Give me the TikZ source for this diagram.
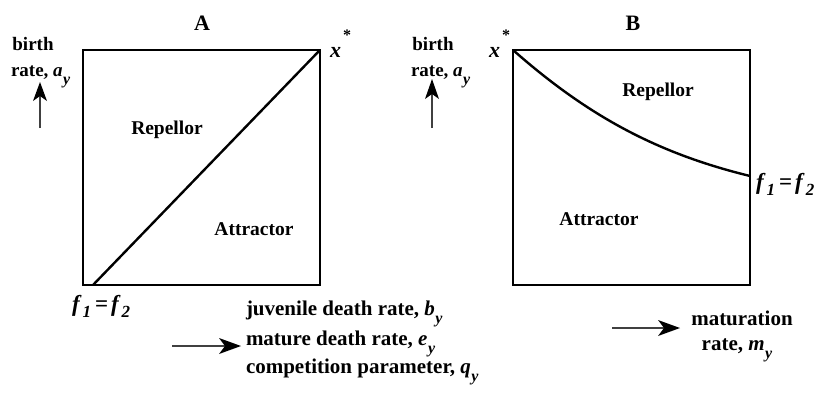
\documentclass[tikz,border=0pt]{standalone}
\usepackage{fontspec}
\setmainfont{Liberation Serif}
\newcommand{\mysub}[1]{\kern0.5pt\raisebox{-8pt}{\fontsize{16}{16}\selectfont\itshape #1}}
\newcommand{\fsub}[1]{\raisebox{-6pt}{\fontsize{17}{17}\selectfont\itshape #1}}
\newcommand{\xstar}{\textit{x}\kern2pt\raisebox{17pt}{\fontsize{16}{16}\selectfont *}}
\newcommand{\ffeq}{\textit{f}\kern1pt\fsub{1}\kern4pt=\kern3pt\textit{f}\kern1pt\fsub{2}}
\begin{document}
\begin{tikzpicture}[x=1pt,y=-1pt,
  every node/.style={inner sep=0pt, outer sep=0pt, font=\fontsize{20}{20}\selectfont\bfseries},
  big/.style={font=\fontsize{22}{22}\selectfont\bfseries},
  fflab/.style={font=\fontsize{23}{23}\selectfont\bfseries},
  axislab/.style={font=\fontsize{19}{19}\selectfont\bfseries},
  bottomlab/.style={font=\fontsize{21}{21}\selectfont\bfseries},
  regionlab/.style={font=\fontsize{19.5}{19.5}\selectfont\bfseries},
  framebox/.style={line width=2.6pt, line join=miter},
  boundary/.style={line width=2.4pt},
  shaft/.style={line width=1.1pt, black!75},
  headfill/.style={fill=black}
]
\useasboundingbox (0,0) rectangle (819,399);

% ---------- Panel A ----------
\coordinate (Atl) at (83,50);
\coordinate (Abr) at (320,285);
\coordinate (Astart) at (93,285);
\coordinate (Aend) at (320,50);
\draw[framebox] (Atl) rectangle (Abr);
\draw[boundary] (Astart) -- (Aend);

\node[big, anchor=base] (labA) at (202,30) {A};
\node[big, anchor=base west] (xsA) at (330,57) {\xstar};
\node[axislab, anchor=base] (birthA) at (33,50) {birth};
\node[axislab, anchor=base west] (rateA) at (11,76) {rate, \textit{a}\mysub{y}};
\coordinate (upA0) at (40,128);
\coordinate (upA1) at (40,82);
\draw[shaft] (upA0) -- ([yshift=-12pt]upA1);
\fill[headfill] (upA1) -- ++(-7,19) -- ++(7,-5) -- ++(7,5) -- cycle;

\node[regionlab, anchor=base] (repA) at (167,134) {Repellor};
\node[regionlab, anchor=base] (attA) at (254,235) {Attractor};
\node[fflab, anchor=base west] (ffA) at (72,311) {\ffeq};

\node[bottomlab, anchor=base west] (l1) at (246,315) {juvenile death rate, \textit{b}\mysub{y}};
\node[bottomlab, anchor=base west] (l2) at (246,345) {mature death rate, \textit{e}\mysub{y}};
\node[bottomlab, anchor=base west] (l3) at (246,373) {competition parameter, \textit{q}\mysub{y}};
\coordinate (rtA0) at (172,346);
\coordinate (rtA1) at (241,346);
\draw[shaft] (rtA0) -- ([xshift=-14pt]rtA1);
\fill[headfill] (rtA1) -- ++(-22,-8) -- ++(6,8) -- ++(-6,8) -- cycle;

% ---------- Panel B ----------
\coordinate (Btl) at (513,50);
\coordinate (Bbr) at (750,285);
\coordinate (Bstart) at (513,50);
\coordinate (Bend) at (750,176);
\draw[framebox] (Btl) rectangle (Bbr);
\draw[boundary] (Bstart) .. controls (590,118) and (660,154) .. (Bend);

\node[big, anchor=base] (labB) at (633,30) {B};
\node[big, anchor=base west] (xsB) at (489,57) {\xstar};
\node[axislab, anchor=base] (birthB) at (433,50) {birth};
\node[axislab, anchor=base west] (rateB) at (411,76) {rate, \textit{a}\mysub{y}};
\coordinate (upB0) at (432,128);
\coordinate (upB1) at (432,79);
\draw[shaft] (upB0) -- ([yshift=-12pt]upB1);
\fill[headfill] (upB1) -- ++(-7,20) -- ++(7,-5) -- ++(7,5) -- cycle;

\node[regionlab, anchor=base] (repB) at (658,96) {Repellor};
\node[regionlab, anchor=base] (attB) at (599,225) {Attractor};
\node[fflab, anchor=base west] (ffB) at (756,189) {\ffeq};

\node[bottomlab, anchor=base] (mat) at (742,325) {maturation};
\node[bottomlab, anchor=base] (rateM) at (737,350) {rate, \textit{m}\mysub{y}};
\coordinate (rtB0) at (612,328);
\coordinate (rtB1) at (680,328);
\draw[shaft] (rtB0) -- ([xshift=-14pt]rtB1);
\fill[headfill] (rtB1) -- ++(-22,-8) -- ++(6,8) -- ++(-6,8) -- cycle;
\end{tikzpicture}
\end{document}
